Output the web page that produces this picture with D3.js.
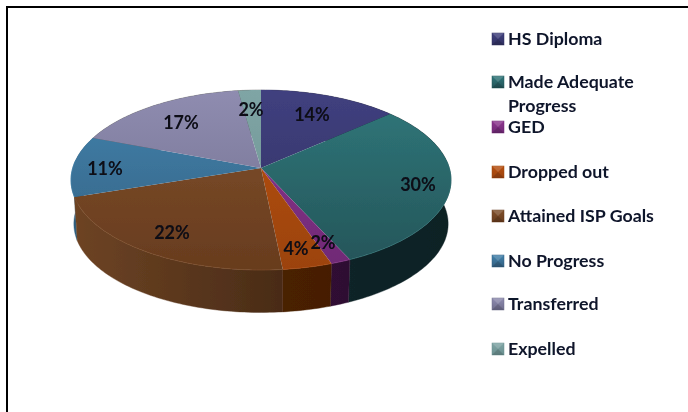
<!DOCTYPE html>
<html><head><meta charset="utf-8">
<script src="https://cdn.jsdelivr.net/npm/d3@7"></script>
<style>html,body{margin:0;padding:0;background:#fff}svg{display:block}</style>
</head><body><div id="c"></div>
<script>
const categories=["HS Diploma","Made Adequate Progress","GED","Dropped out","Attained ISP Goals","No Progress","Transferred","Expelled"];
const values=[13.4,29.8,1.5,3.7,21.5,10.9,17,2.2];
const labels=["14%","30%","2%","4%","22%","11%","17%","2%"];
const topLight=["#40407f","#30787b","#8f3590","#b8500f","#80502c","#4283ad","#8f8cb0","#7fa5a5"];
const topDark=["#303060","#245458","#6f2a75","#9c430c","#683c1e","#335f80","#6f6e8c","#6a8f8f"];
const wallLight=["#1c1c3c","#143034","#3c1640","#5a2806","#6e4424","#2e5f80","#555","#555"];
const wallDark=["#14142c","#0e2024","#2a0e2e","#3c1a02","#2c180c","#244a64","#444","#444"];
const legendLines=[["HS Diploma"],["Made Adequate","Progress"],["GED"],["Dropped out"],["Attained ISP Goals"],["No Progress"],["Transferred"],["Expelled"]];
const legendY=[38,81,126,171,215,260,303,348];
const labelPos=[[312,114],[418,184],[323,242],[296,248],[172,232],[105,168],[181,122],[251,109]];

const W=688,H=412;
const svg=d3.select("#c").append("svg").attr("width",W).attr("height",H);
const defs=svg.append("defs");
const blur=defs.append("filter").attr("id","soft").attr("x","-5%").attr("y","-5%").attr("width","110%").attr("height","110%");
blur.append("feGaussianBlur").attr("stdDeviation",0.5);
const tblur=defs.append("filter").attr("id","tsoft").attr("x","-5%").attr("y","-5%").attr("width","110%").attr("height","110%");
tblur.append("feGaussianBlur").attr("stdDeviation",0.3);
svg.append("rect").attr("x",7).attr("y",7).attr("width",W).attr("height",H).attr("fill","#fff").attr("stroke","#000").attr("stroke-width",2);

const cx=261,cy=168,A=188.3,B=88.4,k=0.1333;
const pt=(a,s=1,d=0)=>{const u=Math.sin(a),w=Math.cos(a),q=1+k*w;return [cx+s*A*u/q,cy+d-s*B*w/q];};
const arcs=d3.pie().sort(null)(values);
const sample=(a0,a1)=>{const n=Math.max(2,Math.ceil((a1-a0)/0.02));return d3.range(n+1).map(i=>a0+(a1-a0)*i/n);};
const line=d3.line();

arcs.forEach((d,i)=>{
  const g=defs.append("linearGradient").attr("id","t"+i).attr("gradientUnits","userSpaceOnUse").attr("x1",0).attr("y1",90).attr("x2",0).attr("y2",270);
  g.append("stop").attr("offset",0).attr("stop-color",topLight[i]);
  g.append("stop").attr("offset",1).attr("stop-color",topDark[i]);
  const w=defs.append("linearGradient").attr("id","w"+i).attr("gradientUnits","userSpaceOnUse").attr("x1",71).attr("y1",0).attr("x2",451).attr("y2",0);
  w.append("stop").attr("offset",0).attr("stop-color",wallLight[i]);
  w.append("stop").attr("offset",1).attr("stop-color",wallDark[i]);
  const l=defs.append("linearGradient").attr("id","l"+i).attr("x1",0).attr("y1",0).attr("x2",0).attr("y2",1);
  l.append("stop").attr("offset",0).attr("stop-color",topLight[i]);
  l.append("stop").attr("offset",1).attr("stop-color",topDark[i]);
});

const pie=svg.append("g").attr("filter","url(#soft)");
const order=arcs.map((d,i)=>i).sort((a,b)=>{
  const m=x=>(arcs[x].startAngle+arcs[x].endAngle)/2;
  return Math.cos(m(b))-Math.cos(m(a));
});
order.forEach(i=>{
  const d=arcs[i],t=sample(d.startAngle,d.endAngle);
  const poly=t.map(a=>pt(a)).concat(t.slice().reverse().map(a=>pt(a,0.985,44)));
  pie.append("path").attr("d",line(poly)+"Z").attr("fill",`url(#w${i})`).attr("stroke",`url(#w${i})`).attr("stroke-width",0.4);
});
arcs.forEach((d,i)=>{
  const t=sample(d.startAngle,d.endAngle);
  pie.append("path").attr("d",line([[cx,cy]].concat(t.map(a=>pt(a))))+"Z").attr("fill",`url(#t${i})`);
});
// light rim along the front edge of the top face
arcs.forEach((d,i)=>{
  const t=sample(d.startAngle,d.endAngle).filter(a=>Math.cos(a)<0.1);
  if(t.length>1) pie.append("path").attr("d",line(t.map(a=>pt(a))))
    .attr("fill","none").attr("stroke",topLight[i]).attr("stroke-opacity",0.6).attr("stroke-width",1);
});

const font="Lato, Carlito, sans-serif";
svg.append("g").attr("filter","url(#tsoft)").selectAll("text").data(labels).join("text")
  .attr("x",(d,i)=>labelPos[i][0]).attr("y",(d,i)=>labelPos[i][1])
  .attr("text-anchor","middle").attr("dominant-baseline","central")
  .attr("font-family",font).attr("font-weight",700).attr("font-size",18).attr("fill","#0a0a14").text(d=>d);

const leg=svg.append("g").attr("filter","url(#tsoft)");
categories.forEach((c,i)=>{
  const y=legendY[i]+1;
  leg.append("rect").attr("x",492).attr("y",y-6).attr("width",12).attr("height",12).attr("fill",`url(#l${i})`).attr("stroke",topDark[i]).attr("stroke-width",0.5);
  leg.append("path").attr("d",`M492 ${y-6}L498 ${y}L504 ${y-6}Z`).attr("fill","#fff").attr("fill-opacity",0.16);
  leg.append("path").attr("d",`M492 ${y+6}L498 ${y}L504 ${y+6}Z`).attr("fill","#000").attr("fill-opacity",0.14);
  legendLines[i].forEach((s,j)=>{
    leg.append("text").attr("x",508).attr("y",legendY[i]+j*24).attr("dominant-baseline","central")
      .attr("font-family",font).attr("font-weight",700).attr("font-size",17.8).attr("fill","#10142a").text(s);
  });
});
</script></body></html>
